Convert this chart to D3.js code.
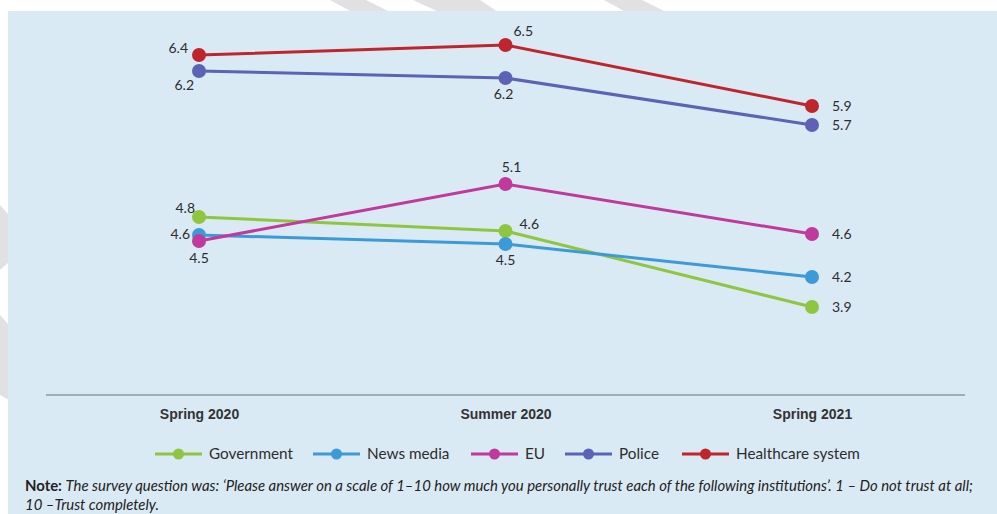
<!DOCTYPE html>
<html lang="en">
  <head>
    <meta charset="utf-8">
    <title>Trust in institutions</title>
    <style>
    body { margin: 0; background: #fff; }
    svg { display: block; font-family: Lato, "Open Sans", sans-serif; }
    .axis--x path, .axis--x line { display: none; }
    .axis--x text { font-size: 14px; font-weight: 600; fill: #333; }
    .val { font-size: 14px; fill: #2d2d2d; }
    .legend text { font-size: 15.3px; fill: #2d2d2d; }
    .note { font-size: 14.9px; fill: #222; }
    </style>
  </head>
  <body>
    <svg width="997" height="514" id="svg"></svg>

    <script src="https://d3js.org/d3.v7.min.js"></script>
    <script>

    // survey waves
    var periods = ["Spring 2020", "Summer 2020", "Spring 2021"];

    // institutions, in drawing order
    var series = ["Government", "News media", "EU", "Police", "Healthcare system"];
    var colors = ["#8fc641", "#3d9ad8", "#c0399c", "#5c62b6", "#bf252c"];

    // mean trust (1-10)
    var government = [4.78, 4.64, 3.88];
    var newsMedia  = [4.60, 4.51, 4.18];
    var eu         = [4.54, 5.11, 4.61];
    var police     = [6.24, 6.17, 5.70];
    var healthcare = [6.40, 6.50, 5.89];

    // where each value label sits around its point
    var labelPlace = [
      [[-4, -9, "end"], [14, -7, "start"], [20, 0, "start"]],
      [[-9, -1, "end"], [0, 16, "middle"], [20, 0, "start"]],
      [[0, 17, "middle"], [6, -17, "middle"], [20, 0, "start"]],
      [[-5, 14, "end"], [-2, 16, "middle"], [20, 0, "start"]],
      [[-11, -7, "end"], [8, -14, "start"], [20, 0, "start"]]
    ];

    var values = [government, newsMedia, eu, police, healthcare];
    var data = series.map(function(name, i) {
      return { name: name, color: colors[i], values: values[i], place: labelPlace[i] };
    });

    var svg = d3.select("svg");

    // faint watermark stripes in the white margin
    var stripes = [
      [[330, 0], [366, 0], [390, 12], [352, 12]],
      [[413, 0], [480, 0], [498, 12], [439, 12]],
      [[604, 0], [642, 0], [666, 12], [626, 12]],
      [[0, 205], [9, 215], [9, 262], [0, 270]],
      [[0, 315], [9, 325], [9, 400], [0, 395]]
    ];
    svg.selectAll(".stripe")
      .data(stripes)
      .enter().append("polygon")
        .attr("points", function(d) { return d.join(" "); })
        .attr("fill", "#e1e1e1");

    // blue panel
    svg.append("rect")
        .attr("x", 8).attr("y", 11)
        .attr("width", 989).attr("height", 503)
        .attr("fill", "#daeaf5");

    var x = d3.scalePoint().domain(periods).range([199, 812]),
        y = d3.scaleLinear().domain([3, 6.5]).range([395, 45]);

    // baseline
    svg.append("line")
        .attr("x1", 46).attr("x2", 965)
        .attr("y1", y(3)).attr("y2", y(3))
        .attr("stroke", "#a3abb4")
        .attr("stroke-width", 2);

    svg.append("g")
        .attr("class", "axis axis--x")
        .attr("transform", "translate(0," + (y(3) + 8) + ")")
        .call(d3.axisBottom(x).tickSize(0).tickPadding(6));

    var line = d3.line()
        .x(function(d, i) { return x(periods[i]); })
        .y(function(d) { return y(d); });

    var g = svg.selectAll(".series")
      .data(data)
      .enter().append("g")
        .attr("class", "series");

    g.append("path")
        .attr("d", function(d) { return line(d.values); })
        .attr("fill", "none")
        .attr("stroke", function(d) { return d.color; })
        .attr("stroke-width", 3);

    g.selectAll("circle")
      .data(function(d) { return d.values.map(function(v) { return { v: v, color: d.color }; }); })
      .enter().append("circle")
        .attr("cx", function(d, i) { return x(periods[i]); })
        .attr("cy", function(d) { return y(d.v); })
        .attr("r", 7)
        .attr("fill", function(d) { return d.color; });

    var fmt = d3.format(".1f");
    g.selectAll(".val")
      .data(function(d) { return d.values.map(function(v, i) { return { v: v, p: d.place[i] }; }); })
      .enter().append("text")
        .attr("class", "val")
        .attr("x", function(d, i) { return x(periods[i]) + d.p[0]; })
        .attr("y", function(d) { return y(d.v) + d.p[1]; })
        .attr("dy", "0.35em")
        .attr("text-anchor", function(d) { return d.p[2]; })
        .text(function(d) { return fmt(d.v); });

    // legend
    var legendX = [155, 313, 471, 565, 682];
    var lg = svg.append("g").attr("class", "legend")
      .selectAll("g")
      .data(data)
      .enter().append("g")
        .attr("transform", function(d, i) { return "translate(" + legendX[i] + ",454)"; });

    lg.append("line")
        .attr("x1", 0).attr("x2", 47)
        .attr("stroke", function(d) { return d.color; })
        .attr("stroke-width", 3);
    lg.append("circle")
        .attr("cx", 23.5).attr("r", 5.5)
        .attr("fill", function(d) { return d.color; });
    lg.append("text")
        .attr("x", 54)
        .attr("dy", "0.35em")
        .text(function(d) { return d.name; });

    // note
    var note = svg.append("text").attr("class", "note").attr("x", 25).attr("y", 491);
    note.append("tspan").attr("font-weight", "bold").text("Note: ");
    note.append("tspan").attr("font-style", "italic")
        .text("The survey question was: \u2018Please answer on a scale of 1\u201310 how much you personally trust each of the following institutions\u2019. 1 \u2013 Do not trust at all;");
    svg.append("text").attr("class", "note")
        .attr("x", 25).attr("y", 510)
        .attr("font-style", "italic")
        .text("10 \u2013Trust completely.");

    </script>
  </body>
</html>
